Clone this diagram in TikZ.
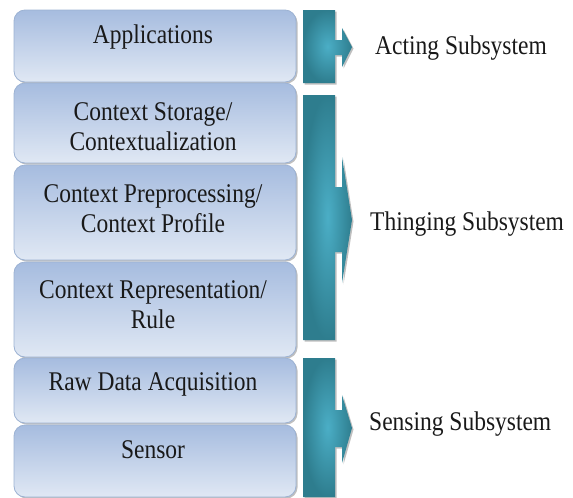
\documentclass[tikz,border=0pt]{standalone}
\usepackage{fontspec}
\setmainfont{Liberation Serif}[FakeStretch=0.87]
\definecolor{boxdark}{HTML}{A6BCDF}
\definecolor{boxlight}{HTML}{E0E8F4}
\definecolor{boxline}{HTML}{9CB2D3}
\definecolor{tealdark}{HTML}{2E7D8E}
\definecolor{teallight}{HTML}{4BAEC6}

\begin{document}
\begin{tikzpicture}[x=1pt, y=1pt, every node/.style={inner sep=0pt,
    font=\fontsize{27}{29.5}\selectfont, text=black!90}]
    \useasboundingbox (0,0) rectangle (573,-498);
    % layer boxes
    \foreach \ta/\bo in {10/82, 83/163, 165/260, 262/357, 358/423, 425/497}{
    \fill[black!25, rounded corners=11pt] (15.5,-\ta-1.5) rectangle (297.5,-\bo-1.5);
    \shade[top color=boxdark, bottom color=boxlight, draw=boxline,
    line width=0.8pt, rounded corners=11pt] (14,-\ta) rectangle (296,-\bo);}
    % subsystem arrows
    \foreach \ta/\bo/\hu/\nu/\tp/\nl/\hl in {10/83/28/40/47/55/67,
        95/340/157/187/220/252/283, 358/497/395/410/428/447/463}{
    \fill[black!25, xshift=1.5pt, yshift=-1.5pt]
    (303,-\ta) -- (335,-\ta) -- (335,-\nu) -- (342,-\nu) -- (342,-\hu) -- (352,-\tp)
    -- (342,-\hl) -- (342,-\nl) -- (335,-\nl) -- (335,-\bo) -- (303,-\bo) -- cycle;
    \shade[inner color=teallight, outer color=tealdark]
    (303,-\ta) -- (335,-\ta) -- (335,-\nu) -- (342,-\nu) -- (342,-\hu) -- (352,-\tp)
    -- (342,-\hl) -- (342,-\nl) -- (335,-\nl) -- (335,-\bo) -- (303,-\bo) -- cycle;}
    % layer texts
    \node[anchor=base] (apps) at (153,-43) {Applications};
    \node[anchor=base, align=center] (store) at (153,-150)
    {Context Storage/\\Contextualization};
    \node[anchor=base, align=center] (prep) at (153,-232)
    {Context Preprocessing/\\Context Profile};
    \node[anchor=base, align=center] (repr) at (153,-328)
    {Context Representation/\\Rule};
    \node[anchor=base] (raw) at (153,-390) {Raw Data Acquisition};
    \node[anchor=base] (sensor) at (153,-458) {Sensor};
    % subsystem labels
    \node[anchor=base west] (acting) at (375,-54) {Acting Subsystem};
    \node[anchor=base west] (thinging) at (370,-230) {Thinging Subsystem};
    \node[anchor=base west] (sensing) at (369,-430) {Sensing Subsystem};
\end{tikzpicture}
\end{document}
